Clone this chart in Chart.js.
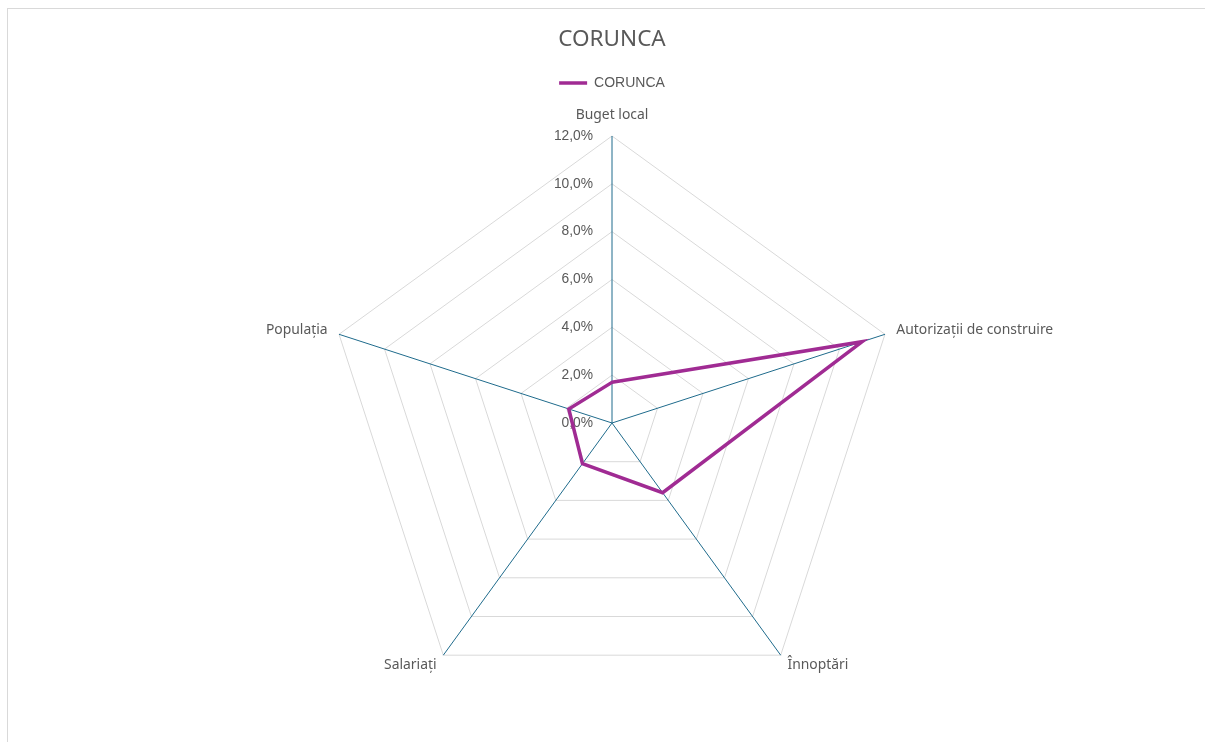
<!DOCTYPE html>
<html>
<head>
<meta charset="utf-8">
<script src="https://cdn.jsdelivr.net/npm/chart.js@4.4.1/dist/chart.umd.min.js"></script>
<style>
  html, body { margin: 0; padding: 0; background: #ffffff; overflow: hidden; }
  #frame { position: absolute; left: 7px; top: 8px; width: 1400px; height: 1000px; border: 1px solid #d9d9d9; box-sizing: border-box; }
  #wrap { position: absolute; left: 0; top: 0; width: 1205px; height: 742px; }
</style>
</head>
<body>
<div id="frame"></div>
<div id="wrap"><canvas id="c"></canvas></div>
<script>
const chartTitle = 'CORUNCA';
const seriesName = 'CORUNCA';
const categories = ['Buget local', 'Autorizații de construire', 'Înnoptări', 'Salariați', 'Populația'];
const seriesValues = [1.7, 11.0, 3.6, 2.1, 1.9];
const axisMin = 0;
const axisMax = 12;
const axisStep = 2;

const fmtPct = v => v.toFixed(1).replace('.', ',') + '%';

const tickLabelPlugin = {
  id: 'tickLabelsLeft',
  beforeDatasetsDraw(chart) {
    const s = chart.scales.r;
    const ctx = chart.ctx;
    ctx.save();
    ctx.font = '13.8px "Liberation Sans", Arial, sans-serif';
    ctx.fillStyle = '#595959';
    ctx.textAlign = 'right';
    ctx.textBaseline = 'middle';
    s.ticks.forEach(t => {
      const d = s.getDistanceFromCenterForValue(t.value);
      ctx.fillText(t.label, s.xCenter - 19, s.yCenter - d);
    });
    ctx.restore();
  }
};

new Chart(document.getElementById('c'), {
  type: 'radar',
  data: {
    labels: categories,
    datasets: [{
      label: seriesName,
      data: seriesValues,
      borderColor: '#A02B93',
      backgroundColor: '#A02B93',
      borderWidth: 3.5,
      fill: false,
      tension: 0,
      pointRadius: 0,
      pointHoverRadius: 0,
      borderJoinStyle: 'miter'
    }]
  },
  options: {
    responsive: true,
    maintainAspectRatio: false,
    animation: false,
    devicePixelRatio: 1,
    layout: { padding: { left: 19, right: 0, top: 0, bottom: 20 } },
    plugins: {
      title: {
        display: true,
        text: chartTitle,
        color: '#595959',
        font: { family: '"Noto Sans", sans-serif', size: 22.5, weight: 'normal', lineHeight: '26px' },
        padding: { top: 27, bottom: 13 }
      },
      legend: {
        display: true,
        position: 'top',
        labels: {
          color: '#595959',
          font: { family: '"Liberation Sans", Arial, sans-serif', size: 14 },
          usePointStyle: true,
          pointStyle: 'line',
          pointStyleWidth: 28,
          padding: 10
        }
      },
      tooltip: { enabled: false }
    },
    scales: {
      r: {
        min: axisMin,
        max: axisMax,
        beginAtZero: true,
        ticks: {
          display: false,
          stepSize: axisStep,
          callback: v => fmtPct(v)
        },
        grid: { color: '#d9d9d9', lineWidth: 1 },
        angleLines: { color: '#1f6b8c', lineWidth: 1 },
        pointLabels: {
          display: true,
          color: '#595959',
          font: c => ({ family: '"Noto Sans", sans-serif', size: 13.9, lineHeight: c.index === 0 ? '6px' : '1px' }),
          padding: c => (c.index === 0 ? 18 : (c.index === 2 || c.index === 3 ? 11.5 : 12))
        }
      }
    }
  },
  plugins: [tickLabelPlugin]
});
</script>
</body>
</html>
